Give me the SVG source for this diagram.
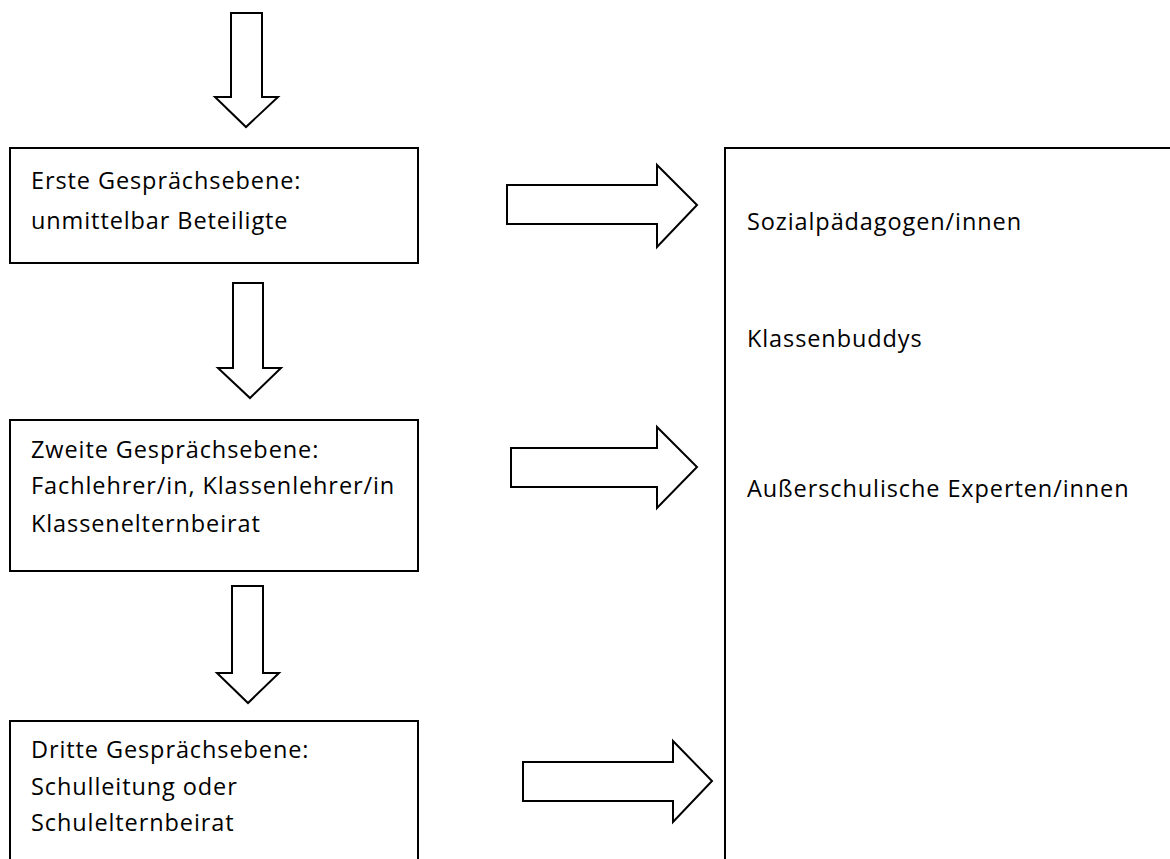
<svg xmlns="http://www.w3.org/2000/svg" width="1170" height="859" viewBox="0 0 1170 859">
<style>
.box{fill:#fff;stroke:#000;stroke-width:2}
.arr{fill:#fff;stroke:#000;stroke-width:2;stroke-linejoin:miter}
text{font-family:"Open Sans","Noto Sans",sans-serif;font-size:23.5px;letter-spacing:0.9px;fill:#000}
</style>
<rect width="1170" height="859" fill="#fff"/>
<g id="connectors">
<path class="arr" d="M231,13 H262 V97 H278 L246,127 L215,97 H231 Z"/>
<path class="arr" d="M233,283 H263 V368 H281 L250,398 L218,368 H233 Z"/>
<path class="arr" d="M232,586 H263 V673 H279 L248,703 L217,673 H232 Z"/>
<path class="arr" d="M507,185 H657 V165 L697,205 L657,247 V224 H507 Z"/>
<path class="arr" d="M511,448 H657 V427 L697,467 L657,508 V487 H511 Z"/>
<path class="arr" d="M523,762 H673 V741 L712,781 L673,822 V801 H523 Z"/>
</g>
<g id="level1">
<rect class="box" x="10" y="148" width="408" height="115"/>
<text x="31" y="189">Erste Gesprächsebene:</text>
<text x="31" y="229">unmittelbar Beteiligte</text>
</g>
<g id="level2">
<rect class="box" x="10" y="420" width="408" height="151"/>
<text x="31" y="458">Zweite Gesprächsebene:</text>
<text x="31" y="494">Fachlehrer/in, Klassenlehrer/in</text>
<text x="31" y="532">Klassenelternbeirat</text>
</g>
<g id="level3">
<path class="box" d="M10,862 V721 H418 V862"/>
<text x="31" y="758">Dritte Gesprächsebene:</text>
<text x="31" y="795">Schulleitung oder</text>
<text x="31" y="831">Schulelternbeirat</text>
</g>
<g id="support">
<path class="box" d="M725,862 V148 H1172"/>
<text x="747" y="230">Sozialpädagogen/innen</text>
<text x="747" y="347">Klassenbuddys</text>
<text x="747" y="497">Außerschulische Experten/innen</text>
</g>
</svg>
